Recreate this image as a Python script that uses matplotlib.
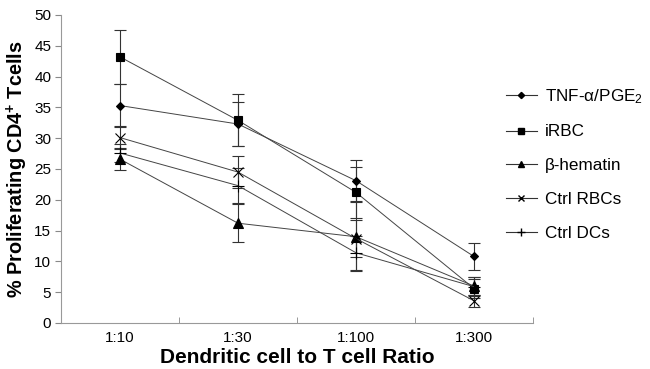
import matplotlib
matplotlib.use("Agg")
import matplotlib.pyplot as plt
import numpy as np
from matplotlib.lines import Line2D

plt.rcParams['font.family'] = ['Liberation Sans', 'DejaVu Sans']
plt.rcParams['mathtext.fontset'] = 'custom'
plt.rcParams['mathtext.rm'] = 'Liberation Sans'
plt.rcParams['mathtext.bf'] = 'Liberation Sans:bold'
plt.rcParams['mathtext.it'] = 'Liberation Sans:italic'

categories = ["1:10", "1:30", "1:100", "1:300"]
series_names = ["TNF-α/PGE$_{2}$", "iRBC", "β-hematin", "Ctrl RBCs", "Ctrl DCs"]
tnf = [35.3, 32.3, 23.1, 10.8]
tnf_err = [3.5, 3.5, 3.3, 2.2]
irbc = [43.2, 32.9, 21.2, 5.6]
irbc_err = [4.4, 4.2, 4.2, 1.6]
bhem = [26.6, 16.2, 14.0, 6.0]
bhem_err = [1.8, 3.1, 5.6, 1.5]
crbc = [30.1, 24.5, 13.7, 3.6]
crbc_err = [1.8, 2.6, 3.0, 1.0]
cdc = [27.6, 22.3, 11.4, 5.9]
cdc_err = [1.5, 2.8, 2.8, 1.5]
y_ticks = [0, 5, 10, 15, 20, 25, 30, 35, 40, 45, 50]

fig = plt.figure(figsize=(6.5, 3.69), dpi=100)
ax = fig.add_axes([61/650, 46/369, (533-61)/650, (323-15)/369])

x = np.arange(len(categories))
data = [(tnf, tnf_err, 'D', 4.5), (irbc, irbc_err, 's', 6), (bhem, bhem_err, '^', 6.5),
        (crbc, crbc_err, 'x', 6.5), (cdc, cdc_err, '+', 8)]
for (vals, errs, mk, ms), name in zip(data, series_names):
    ax.errorbar(x, vals, yerr=errs, color='#444444', ecolor='#333333', elinewidth=0.8,
                capsize=4, capthick=0.8, linewidth=0.7, marker=mk, markersize=ms,
                markerfacecolor='black', markeredgecolor='black', markeredgewidth=0.8,
                label=name)

ax.set_xlim(-0.5, len(categories) - 0.5)
ax.set_ylim(0, 50)
ax.set_yticks(y_ticks)
ax.set_xticks(x)
ax.set_xticklabels(categories)
ax.set_xticks(np.arange(-0.5, len(categories)), minor=True)
ax.tick_params(axis='x', which='major', length=0, pad=6, labelsize=11)
ax.tick_params(axis='x', which='minor', length=4, color='#888888', direction='in')
ax.tick_params(axis='y', length=4, color='#888888', labelsize=11, direction='out', pad=3)
for s in ['top', 'right']:
    ax.spines[s].set_visible(False)
for s in ['left', 'bottom']:
    ax.spines[s].set_color('#999999')
    ax.spines[s].set_linewidth(0.8)

ax.set_xlabel("Dendritic cell to T cell Ratio", fontsize=15, fontweight='bold', labelpad=2)
ax.set_ylabel("% Proliferating CD4$^{\\mathbf{+}}$ Tcells", fontsize=14.3, fontweight='bold', labelpad=3)

leg_handles = []
for (vals, errs, mk, ms), name in zip(data, series_names):
    leg_handles.append(Line2D([], [], color='#333333', linewidth=0.8, marker=mk,
                              markersize=ms*0.7, markerfacecolor='black', markeredgecolor='black'))
fig.legend(leg_handles, series_names, loc='upper left', bbox_to_anchor=(506/650, 1 - 87/369),
           frameon=False, fontsize=12.3, handlelength=1.8, handletextpad=0.5, labelspacing=1.1,
           borderaxespad=0, borderpad=0)

fig.savefig("out.png", dpi=100)
